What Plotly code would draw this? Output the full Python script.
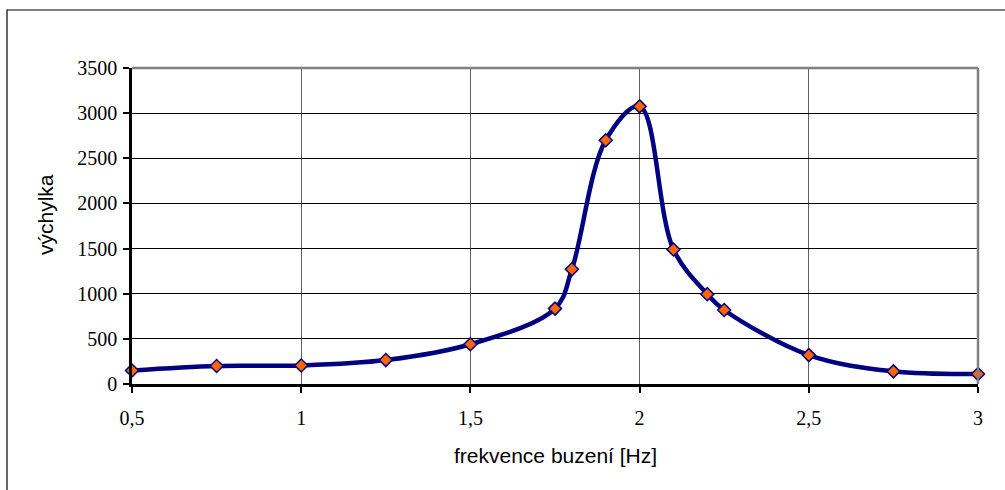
import plotly.graph_objects as go

freq = [0.5, 0.75, 1.0, 1.25, 1.5, 1.75, 1.8, 1.9, 2.0, 2.1, 2.2, 2.25, 2.5, 2.75, 3.0]
vychylka = [150, 200, 205, 265, 440, 835, 1270, 2700, 3075, 1490, 995, 820, 320, 140, 110]

x_ticks = [0.5, 1, 1.5, 2, 2.5, 3]
x_ticktext = ["0,5", "1", "1,5", "2", "2,5", "3"]
y_ticks = [0, 500, 1000, 1500, 2000, 2500, 3000, 3500]

W, H = 1005, 490
L, R, T, B = 132, 27, 68, 106
pw, ph = W - L - R, H - T - B

def px(xp):
    return (xp - L) / pw

def py(yp):
    return (H - B - yp) / ph

fig = go.Figure()
fig.add_trace(go.Scatter(
    x=freq, y=vychylka, mode="lines+markers",
    line=dict(color="#000080", width=4.5, shape="spline", smoothing=1.0),
    marker=dict(symbol="diamond", size=10, color="#FF6600",
                line=dict(color="#000080", width=1.5)),
    cliponaxis=False, showlegend=False,
))

fig.update_layout(
    width=W, height=H,
    margin=dict(l=L, r=R, t=T, b=B, pad=0),
    paper_bgcolor="white", plot_bgcolor="white",
    font=dict(family="Liberation Serif", size=20, color="black"),
    xaxis=dict(range=[0.5, 3], tickvals=x_ticks, ticktext=x_ticktext,
               showgrid=True, gridcolor="#606060", gridwidth=1,
               showline=True, linecolor="black", linewidth=2.5,
               ticks="outside", ticklen=6, tickwidth=2, tickcolor="black",
               ticklabelstandoff=8, zeroline=False,
               tickfont=dict(family="Liberation Serif", size=20)),
    yaxis=dict(range=[0, 3500], tickvals=y_ticks,
               showgrid=True, gridcolor="black", gridwidth=1,
               showline=True, linecolor="black", linewidth=2.5,
               ticks="outside", ticklen=6, tickwidth=2, tickcolor="black",
               ticklabelstandoff=2, zeroline=False,
               tickfont=dict(family="Liberation Serif", size=20)),
    shapes=[
        # outer chart frame (only top/left visible)
        dict(type="rect", xref="paper", yref="paper",
             x0=px(7), x1=px(1040), y0=py(520), y1=py(10),
             line=dict(color="black", width=1.2), layer="below"),
        # plot area top and right border
        dict(type="line", xref="paper", yref="paper",
             x0=0, x1=1, y0=1, y1=1, line=dict(color="#808080", width=2.5)),
        dict(type="line", xref="paper", yref="paper",
             x0=1, x1=1, y0=0, y1=1, line=dict(color="#808080", width=2.5)),
    ],
    annotations=[
        dict(text="frekvence buzení [Hz]", xref="paper", yref="paper",
             x=px(555), y=py(455), xanchor="center", yanchor="middle",
             showarrow=False,
             font=dict(family="Liberation Sans", size=21)),
        dict(text="výchylka", xref="paper", yref="paper",
             x=px(45), y=py(215), xanchor="center", yanchor="middle",
             showarrow=False, textangle=-90,
             font=dict(family="Liberation Sans", size=21)),
    ],
)

fig.write_html("out.html")
